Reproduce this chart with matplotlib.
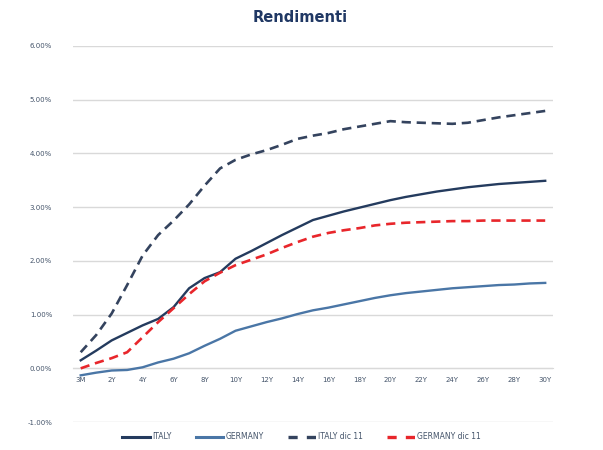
import matplotlib
matplotlib.use("Agg")
import matplotlib.pyplot as plt
from matplotlib.ticker import FuncFormatter
from matplotlib.lines import Line2D

categories = ["3M"] + [f"{i}Y" for i in range(1, 31)]

italy = [0.15, 0.33, 0.52, 0.66, 0.80, 0.92, 1.14, 1.49, 1.68, 1.79, 2.04,
         2.18, 2.33, 2.48, 2.62, 2.76, 2.84, 2.92, 2.99, 3.06, 3.13,
         3.19, 3.24, 3.29, 3.33, 3.37, 3.40, 3.43, 3.45, 3.47, 3.49]
germany = [-0.13, -0.08, -0.04, -0.03, 0.02, 0.11, 0.18, 0.28, 0.42, 0.55, 0.70,
           0.78, 0.86, 0.93, 1.01, 1.08, 1.13, 1.19, 1.25, 1.31, 1.36,
           1.40, 1.43, 1.46, 1.49, 1.51, 1.53, 1.55, 1.56, 1.58, 1.59]
italy_dic11 = [0.30, 0.62, 1.02, 1.55, 2.10, 2.48, 2.75, 3.05, 3.40, 3.72, 3.88,
               3.98, 4.06, 4.16, 4.27, 4.33, 4.38, 4.45, 4.50, 4.55, 4.60,
               4.58, 4.57, 4.56, 4.55, 4.57, 4.62, 4.67, 4.71, 4.75, 4.79]
germany_dic11 = [0.00, 0.10, 0.19, 0.30, 0.58, 0.86, 1.12, 1.38, 1.62, 1.78, 1.92,
                 2.02, 2.12, 2.24, 2.35, 2.45, 2.52, 2.57, 2.61, 2.66, 2.69,
                 2.71, 2.72, 2.73, 2.74, 2.74, 2.75, 2.75, 2.75, 2.75, 2.75]
series_labels = ["ITALY", "GERMANY", "ITALY dic 11", "GERMANY dic 11"]
y_ticks = [-1, 0, 1, 2, 3, 4, 5, 6]

c_it, c_de, c_itd, c_ded = "#243B5E", "#4A76A6", "#34435E", "#E8262B"

fig = plt.figure(figsize=(6.03, 4.5), dpi=100)
ax = fig.add_axes([0.121, 0.062, 0.796, 0.836])

x = list(range(len(categories)))
ax.plot(x, italy, color=c_it, lw=1.7, zorder=4)
ax.plot(x, germany, color=c_de, lw=1.7, zorder=4)
ax.plot(x, italy_dic11, color=c_itd, lw=1.9, ls=(0, (3.5, 2.2)), zorder=4)
ax.plot(x, germany_dic11, color=c_ded, lw=1.9, ls=(0, (3.5, 2.2)), zorder=4)

ax.set_xlim(-0.5, 30.5)
ax.set_ylim(-1, 6)
ax.set_yticks(y_ticks)
ax.yaxis.set_major_formatter(FuncFormatter(lambda v, p: f"{v:.2f}%"))
ax.grid(axis="y", color="#D9D9D9", lw=1.0, zorder=0)
ax.set_axisbelow(True)

ax.set_xticks(x[::2])
ax.set_xticklabels(categories[::2])
ax.spines["bottom"].set_position(("data", 0))
ax.spines["bottom"].set_color("#D9D9D9")
for s in ["top", "right", "left"]:
    ax.spines[s].set_visible(False)
ax.tick_params(axis="both", length=0, labelsize=5, labelcolor="#44546A")
ax.tick_params(axis="x", pad=6)
ax.tick_params(axis="y", pad=15)

fig.text(0.497, 0.962, "Rendimenti", ha="center", va="center",
         fontsize=10.5, fontweight="bold", color="#203864")

handles = [
    Line2D([], [], color=c_it, lw=2.2),
    Line2D([], [], color=c_de, lw=2.2),
    Line2D([], [], color=c_itd, lw=2.4, ls=(0, (2.75, 2.75))),
    Line2D([], [], color=c_ded, lw=2.4, ls=(0, (2.75, 2.75))),
]
fig.legend(handles, series_labels, loc="center", bbox_to_anchor=(0.5, 0.029), ncol=4,
           frameon=False, fontsize=5.5, labelcolor="#44546A", handlelength=3.6,
           columnspacing=3.2, handletextpad=0.3)

fig.savefig("out.png", dpi=100, facecolor="white")
